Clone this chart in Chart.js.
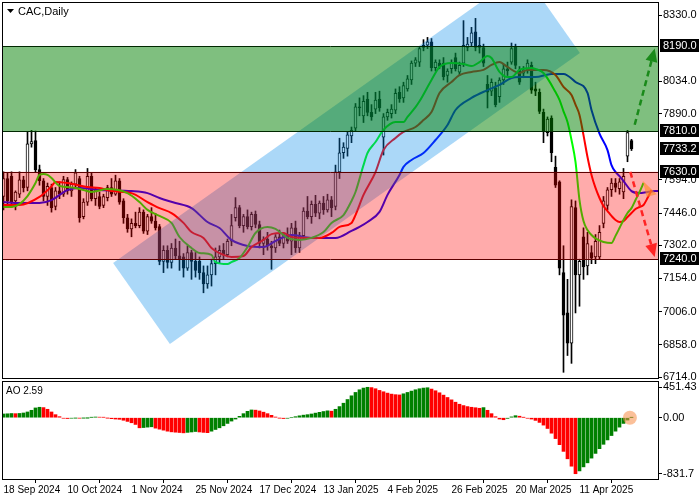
<!DOCTYPE html>
<html>
<head>
<meta charset="utf-8">
<script src="https://cdn.jsdelivr.net/npm/chart.js@4.4.1/dist/chart.umd.min.js"></script>
<style>
  html, body { margin: 0; padding: 0; background: #fff; }
  #wrap { position: relative; width: 700px; height: 500px; }
  #mainBox { position: absolute; left: 0; top: 0; width: 700px; height: 380px; }
  #aoBox { position: absolute; left: 0; top: 380px; width: 700px; height: 120px; }
</style>
</head>
<body>
<div id="wrap">
  <div id="mainBox"><canvas id="mainChart"></canvas></div>
  <div id="aoBox"><canvas id="aoChart"></canvas></div>
</div>
<script>
const FONT = '"Liberation Sans", Arial, sans-serif';

// time axis: one label every 16 bars
const dateIdx = [0, 16, 32, 48, 64, 80, 96, 112, 128, 144];
const dateLabels = ["18 Sep 2024", "10 Oct 2024", "1 Nov 2024", "25 Nov 2024", "17 Dec 2024",
    "13 Jan 2025", "4 Feb 2025", "26 Feb 2025", "20 Mar 2025", "11 Apr 2025"];

// daily candles, bar 0 = 18 Sep 2024
const opens = [
    7520, 7600, 7610, 7500, 7530, 7594, 7560, 7755, 7770, 7640,
    7590, 7520, 7560, 7475, 7545, 7530, 7595, 7545, 7575, 7600,
    7430, 7495, 7610, 7510, 7520, 7480, 7515, 7560, 7530, 7590,
    7500, 7425, 7375, 7400, 7390, 7450, 7365, 7430, 7410, 7385,
    7230, 7280, 7225, 7290, 7255, 7250, 7200, 7270, 7230, 7230,
    7180, 7130, 7170, 7220, 7250, 7280, 7260, 7320, 7425, 7470,
    7390, 7430, 7385, 7440, 7395, 7310, 7330, 7300, 7290, 7340,
    7310, 7350, 7320, 7380, 7290, 7345, 7455, 7430, 7485, 7445,
    7490, 7460, 7505, 7475, 7630, 7715, 7735, 7790, 7825, 7920,
    7880, 7955, 7895, 7910, 7955, 7785, 7875, 7890, 7905, 7985,
    7960, 8000, 8040, 8115, 8120, 8185, 8195, 8210, 8095, 8115,
    8115, 8060, 8090, 8140, 8075, 8115, 8185, 8205, 8255, 8185,
    8185, 8020, 7990, 8005, 7965, 8040, 8090, 8120, 8190, 8085,
    8070, 8080, 8105, 8000, 7985, 7895, 7805, 7870, 7650, 7585,
    7180, 7000, 6865, 7470, 7170, 7340, 7210, 7270, 7250, 7250,
    7400, 7480, 7550, 7580, 7555, 7540, 7700, 7770
];
const highs = [
    7630, 7625, 7630, 7545, 7630, 7610, 7810, 7815, 7812, 7660,
    7600, 7580, 7575, 7560, 7585, 7610, 7605, 7585, 7640, 7610,
    7510, 7645, 7625, 7560, 7540, 7530, 7570, 7600, 7615, 7600,
    7510, 7440, 7420, 7450, 7470, 7460, 7440, 7470, 7445, 7395,
    7300, 7300, 7310, 7330, 7320, 7265, 7300, 7280, 7270, 7250,
    7210, 7210, 7240, 7290, 7300, 7310, 7330, 7440, 7515, 7480,
    7440, 7460, 7450, 7455, 7410, 7340, 7360, 7320, 7350, 7370,
    7360, 7380, 7400, 7410, 7360, 7470, 7520, 7500, 7525, 7500,
    7520, 7530, 7520, 7660, 7780, 7760, 7810, 7830, 7935, 7960,
    7970, 7985, 7930, 7985, 7990, 7890, 7910, 7930, 8000, 8010,
    8030, 8060, 8125, 8140, 8190, 8220, 8230, 8225, 8130, 8130,
    8140, 8090, 8130, 8160, 8120, 8305, 8230, 8275, 8315, 8230,
    8200, 8060, 8045, 8030, 8050, 8110, 8120, 8205, 8200, 8100,
    8100, 8130, 8120, 8030, 8000, 7910, 7875, 7880, 7700, 7590,
    7300, 7150, 7505, 7500, 7240, 7380, 7360, 7300, 7350, 7390,
    7520, 7560, 7600, 7600, 7600, 7645, 7815, 7775
];
const lows = [
    7460, 7480, 7470, 7460, 7515, 7540, 7545, 7740, 7630, 7570,
    7500, 7480, 7450, 7460, 7510, 7520, 7530, 7520, 7560, 7405,
    7420, 7480, 7500, 7480, 7465, 7470, 7500, 7520, 7525, 7485,
    7400, 7360, 7340, 7380, 7380, 7355, 7350, 7400, 7370, 7215,
    7180, 7200, 7200, 7240, 7190, 7160, 7190, 7150, 7160, 7150,
    7090, 7110, 7120, 7170, 7220, 7240, 7250, 7300, 7410, 7380,
    7360, 7375, 7370, 7380, 7290, 7260, 7280, 7195, 7270, 7300,
    7290, 7310, 7260, 7270, 7270, 7330, 7420, 7400, 7430, 7420,
    7440, 7450, 7430, 7460, 7600, 7690, 7700, 7760, 7810, 7880,
    7850, 7880, 7860, 7890, 7900, 7705, 7860, 7870, 7890, 7940,
    7940, 7990, 8020, 8100, 8100, 8170, 8180, 8080, 8080, 8090,
    8040, 8030, 8070, 8080, 8060, 8100, 8170, 8190, 8170, 8160,
    8100, 7915, 7970, 7920, 7940, 8020, 8060, 8110, 8090, 8020,
    8050, 8070, 7980, 7970, 7890, 7760, 7790, 7675, 7560, 7170,
    6735, 6810, 6775, 7000, 7030, 7150, 7170, 7220, 7220, 7240,
    7380, 7460, 7520, 7540, 7530, 7510, 7675, 7725
];
const closes = [
    7600, 7500, 7495, 7540, 7594, 7558, 7755, 7765, 7640, 7590,
    7520, 7565, 7470, 7545, 7530, 7595, 7545, 7575, 7625, 7425,
    7495, 7610, 7510, 7550, 7475, 7520, 7560, 7530, 7590, 7495,
    7425, 7375, 7400, 7390, 7450, 7365, 7430, 7410, 7380, 7230,
    7280, 7225, 7290, 7255, 7240, 7200, 7270, 7230, 7190, 7180,
    7130, 7170, 7220, 7250, 7280, 7260, 7320, 7390, 7470, 7390,
    7430, 7385, 7440, 7395, 7310, 7330, 7300, 7290, 7340, 7310,
    7350, 7320, 7380, 7290, 7345, 7455, 7430, 7485, 7445, 7490,
    7460, 7505, 7470, 7630, 7715, 7740, 7795, 7815, 7920, 7915,
    7945, 7895, 7875, 7950, 7915, 7875, 7895, 7910, 7980, 7955,
    8015, 8045, 8115, 8130, 8180, 8195, 8210, 8095, 8120, 8100,
    8055, 8080, 8115, 8090, 8105, 8195, 8200, 8250, 8185, 8195,
    8115, 7985, 8030, 7930, 8040, 8090, 8080, 8180, 8105, 8030,
    8085, 8115, 7995, 7990, 7900, 7810, 7865, 7715, 7570, 7200,
    6990, 6865, 7475, 7170, 7230, 7205, 7310, 7245, 7320, 7360,
    7500, 7550, 7580, 7560, 7585, 7610, 7805, 7733.2
];

// Alligator lines as (bar, price) points
const lipsIdx = [0, 2, 4, 6, 7, 8, 9, 10, 11, 12, 14, 16, 18, 20, 22, 26, 31, 34, 36, 39,
    42, 44, 47, 49, 52, 53, 56, 57, 59, 61, 63, 66, 68, 71, 74, 77, 80, 82, 85, 87,
    88, 90, 91, 93, 95, 98, 100, 101, 103, 104, 107, 109, 112, 115, 117, 119, 121, 122, 124, 126,
    127, 129, 132, 133, 135, 138, 139, 140, 141, 142, 143, 144, 145, 146, 147, 148, 150, 152, 153, 154,
    155, 156, 157, 158, 159, 160];
const lipsVal = [7473, 7473, 7486, 7522, 7549, 7580, 7616, 7620, 7616, 7602, 7567, 7562, 7558, 7549, 7540, 7553, 7535, 7495, 7460, 7433,
    7402, 7339, 7290, 7268, 7259, 7227, 7218, 7227, 7245, 7294, 7357, 7384, 7375, 7335, 7326, 7335, 7361, 7402, 7437, 7500,
    7540, 7660, 7714, 7763, 7817, 7852, 7852, 7875, 7919, 7945, 8040, 8098, 8116, 8111, 8102, 8120, 8147, 8138, 8076, 8053,
    8053, 8085, 8093, 8089, 8071, 7986, 7951, 7900, 7852, 7772, 7674, 7504, 7410, 7370, 7348, 7333, 7317, 7312, 7344, 7379,
    7415, 7446, 7468, 7504, 7540, 7580];

const teethIdx = [0, 4, 9, 12, 13, 16, 21, 24, 27, 32, 36, 39, 42, 45, 47, 50, 52, 55, 57, 60,
    62, 65, 67, 70, 72, 76, 79, 82, 84, 87, 88, 90, 93, 95, 98, 100, 103, 105, 107, 109,
    112, 114, 117, 120, 122, 124, 126, 129, 131, 135, 138, 140, 142, 143, 144, 145, 146, 147, 148, 149,
    150, 151, 152, 153, 154, 155, 156, 157, 158, 159, 160, 161, 162];
const teethVal = [7482, 7482, 7518, 7565, 7585, 7580, 7562, 7558, 7544, 7535, 7495, 7468, 7446, 7402, 7361, 7335, 7290, 7259, 7250, 7254,
    7294, 7326, 7352, 7357, 7339, 7335, 7335, 7357, 7384, 7402, 7437, 7527, 7629, 7727, 7781, 7808, 7830, 7861, 7897, 7982,
    8031, 8062, 8076, 8085, 8107, 8120, 8098, 8071, 8085, 8085, 8062, 8009, 7973, 7930, 7884, 7794, 7696, 7616, 7558, 7513,
    7477, 7455, 7433, 7415, 7406, 7410, 7428, 7446, 7464, 7473, 7482, 7513, 7549];

const jawIdx = [0, 4, 9, 12, 16, 19, 24, 32, 36, 39, 43, 47, 51, 54, 57, 61, 65, 68, 72, 77,
    83, 87, 89, 91, 94, 96, 99, 100, 102, 105, 108, 111, 113, 117, 121, 124, 127, 129, 133, 137,
    140, 143, 146, 147, 149, 151, 152, 153, 154, 155, 157, 159, 161, 163, 165];
const jawVal = [7495, 7491, 7491, 7504, 7549, 7558, 7549, 7544, 7535, 7513, 7491, 7468, 7406, 7379, 7326, 7299, 7294, 7321, 7348, 7335,
    7335, 7366, 7384, 7406, 7451, 7527, 7616, 7652, 7683, 7714, 7772, 7839, 7906, 7960, 7995, 8018, 8049, 8053, 8053, 8067,
    8067, 8031, 7982, 7906, 7800, 7727, 7660, 7630, 7611, 7589, 7544, 7535, 7540, 7544, 7545];

// Awesome Oscillator, one value per bar
const aoValues = [
    55, 58, 62, 60, 63, 70, 85, 110, 145, 155,
    150, 125, 85, 45, 15, -8, -12, -7, -4, -6,
    -3, -1, 5, 10, 8, 6, -4, -14, -20, -24,
    -38, -55, -75, -100, -150, -146, -140, -135, -155, -170,
    -185, -200, -210, -215, -220, -225, -218, -212, -205, -212,
    -218, -222, -200, -175, -150, -120, -85, -50, -20, 20,
    60, 95, 115, 112, 100, 82, 60, 35, 10, -5,
    -12, -8, 0, 15, 28, 38, 45, 55, 68, 80,
    92, 102, 97, 125, 165, 215, 270, 325, 375, 415,
    440, 451.43, 447, 430, 405, 385, 365, 350, 342, 338,
    355, 375, 395, 415, 430, 440, 445, 425, 400, 370,
    335, 300, 265, 230, 200, 180, 165, 155, 148, 140,
    150, 110, 60, 15, -20, -30, -10, 12, 30, 22,
    5, -8, -20, -40, -70, -110, -160, -230, -310, -400,
    -500, -610, -720, -831.7, -790, -730, -670, -600, -530, -460,
    -395, -330, -265, -200, -140, -85, -35, 2.59
];

// price axis
const priceTicks = [8330, 8034, 7890, 7594, 7446, 7302, 7154, 7006, 6858, 6714];
const levelPrices = [8190, 7810, 7733.2, 7630, 7240];
const aoTickValues = [451.43, 0, -831.7];
const aoTickLabels = ["451.43", "0.00", "-831.7"];

// drawn objects, in (bar, price)
const greenZone = [7810, 8190];
const pinkZone = [7240, 7630];
const channelIdx = [27.4, 41.6, 144.1, 129.9];
const channelPrice = [7223, 6861, 8160, 8522];
const upArrow = [157.8, 7840, 162.8, 8180];
const downArrow = [156.7, 7630, 162.8, 7250];
const flagIdx = [159.8, 163.3, 160.8];
const flagPrice = [7590, 7530, 7518];
const aoMarker = [156.6, 0];

const X_MIN = -0.125, X_MAX = 163.625;

Chart.defaults.font.family = FONT;
Chart.defaults.color = "#000";

const bars = opens.map((o, i) => i);

function pts(idx, vals) {
    return idx.map((v, k) => ({ x: v, y: vals[k] }));
}

function drawArrow(ctx, x1, y1, x2, y2, color) {
    const ang = Math.atan2(y2 - y1, x2 - x1);
    const head = 13, half = 6;
    const bx = x2 - head * Math.cos(ang), by = y2 - head * Math.sin(ang);
    ctx.strokeStyle = color;
    ctx.lineWidth = 2.5;
    ctx.setLineDash([6, 4]);
    ctx.beginPath();
    ctx.moveTo(x1, y1);
    ctx.lineTo(bx, by);
    ctx.stroke();
    ctx.setLineDash([]);
    ctx.fillStyle = color;
    ctx.beginPath();
    ctx.moveTo(x2, y2);
    ctx.lineTo(bx + half * Math.sin(ang), by - half * Math.cos(ang));
    ctx.lineTo(bx - half * Math.sin(ang), by + half * Math.cos(ang));
    ctx.closePath();
    ctx.fill();
}

const overlayPlugin = {
    id: "overlays",
    afterDatasetsDraw(chart) {
        const { ctx, chartArea: a, scales: { x, y } } = chart;
        ctx.save();
        ctx.beginPath();
        ctx.rect(a.left, a.top, a.right - a.left, a.bottom - a.top);
        ctx.clip();

        // trend channel
        ctx.beginPath();
        channelIdx.forEach((v, k) => {
            const px = x.getPixelForValue(v), py = y.getPixelForValue(channelPrice[k]);
            if (k === 0) ctx.moveTo(px, py); else ctx.lineTo(px, py);
        });
        ctx.closePath();
        ctx.fillStyle = "rgba(0, 136, 233, 0.33)";
        ctx.fill();

        // zones
        const zone = (z, fill, line) => {
            const yTop = y.getPixelForValue(z[1]), yBot = y.getPixelForValue(z[0]);
            ctx.fillStyle = fill;
            ctx.fillRect(a.left, yTop, a.right - a.left, yBot - yTop);
            ctx.strokeStyle = line;
            ctx.lineWidth = 1;
            [yTop, yBot].forEach(py => {
                ctx.beginPath();
                ctx.moveTo(a.left, Math.round(py) + 0.5);
                ctx.lineTo(a.right, Math.round(py) + 0.5);
                ctx.stroke();
            });
        };
        zone(pinkZone, "rgba(255, 0, 0, 0.33)", "#5c0000");
        zone(greenZone, "rgba(0, 128, 0, 0.5)", "#002800");

        // forecast arrows
        drawArrow(ctx, x.getPixelForValue(upArrow[0]), y.getPixelForValue(upArrow[1]),
            x.getPixelForValue(upArrow[2]), y.getPixelForValue(upArrow[3]), "#1a8a1a");
        drawArrow(ctx, x.getPixelForValue(downArrow[0]), y.getPixelForValue(downArrow[1]),
            x.getPixelForValue(downArrow[2]), y.getPixelForValue(downArrow[3]), "#ff2424");

        // small orange flag
        ctx.beginPath();
        flagIdx.forEach((v, k) => {
            const px = x.getPixelForValue(v), py = y.getPixelForValue(flagPrice[k]);
            if (k === 0) ctx.moveTo(px, py); else ctx.lineTo(px, py);
        });
        ctx.closePath();
        ctx.fillStyle = "rgba(255, 140, 40, 0.65)";
        ctx.fill();
        ctx.restore();
    },
    afterDraw(chart) {
        const { ctx, chartArea: a, scales: { y } } = chart;
        ctx.save();
        ctx.strokeStyle = "#000";
        ctx.lineWidth = 1;
        ctx.strokeRect(a.left - 0.5, a.top - 0.5, a.right - a.left + 1, a.bottom - a.top + 1);

        // title
        ctx.fillStyle = "#000";
        ctx.beginPath();
        ctx.moveTo(7, 9); ctx.lineTo(14, 9); ctx.lineTo(10.5, 13);
        ctx.closePath();
        ctx.fill();
        ctx.font = "11px " + FONT;
        ctx.textBaseline = "middle";
        ctx.fillText("CAC,Daily", 18, 11.5);

        // level price boxes
        levelPrices.forEach(v => {
            const py = Math.round(y.getPixelForValue(v));
            ctx.fillStyle = "#000";
            ctx.fillRect(660, py - 7, 39, 13);
            ctx.fillStyle = "#fff";
            ctx.fillText(v.toFixed(1), 663, py);
        });
        ctx.restore();
    }
};

new Chart(document.getElementById("mainChart"), {
    type: "bar",
    data: {
        datasets: [
            {
                type: "line", label: "Lips", data: pts(lipsIdx, lipsVal),
                borderColor: "#00ff00", borderWidth: 2, pointRadius: 0,
                cubicInterpolationMode: "monotone", order: 1
            },
            {
                type: "line", label: "Teeth", data: pts(teethIdx, teethVal),
                borderColor: "#ff0000", borderWidth: 2, pointRadius: 0,
                cubicInterpolationMode: "monotone", order: 1
            },
            {
                type: "line", label: "Jaw", data: pts(jawIdx, jawVal),
                borderColor: "#0000ff", borderWidth: 2, pointRadius: 0,
                cubicInterpolationMode: "monotone", order: 1
            },
            {
                label: "Body",
                data: bars.map(i => ({ x: i, y: [opens[i], closes[i]] })),
                backgroundColor: bars.map(i => closes[i] >= opens[i] ? "#ffffff" : "#000000"),
                borderColor: "#000", borderWidth: 1, borderSkipped: false,
                barThickness: 3, grouped: false, order: 2
            },
            {
                label: "Wick",
                data: bars.map(i => ({ x: i, y: [lows[i], highs[i]] })),
                backgroundColor: "#000", barThickness: 1, grouped: false, order: 3
            }
        ]
    },
    options: {
        responsive: true,
        maintainAspectRatio: false,
        animation: false,
        devicePixelRatio: 1,
        layout: { padding: { left: 3, top: 3, right: 0, bottom: 2 } },
        plugins: { legend: { display: false }, tooltip: { enabled: false } },
        scales: {
            x: { type: "linear", min: X_MIN, max: X_MAX, offset: false, display: false },
            y: {
                position: "right",
                min: 6709.6,
                max: 8383.6,
                afterBuildTicks(s) { s.ticks = priceTicks.map(v => ({ value: v })); },
                afterFit(s) { s.width = 42; s.paddingTop = 0; s.paddingBottom = 0; },
                ticks: { callback: v => Number(v).toFixed(1), font: { size: 11 }, color: "#000", padding: 1 },
                grid: { drawOnChartArea: false, tickLength: 4, color: "#000" },
                border: { display: true, color: "#000" }
            }
        }
    },
    plugins: [overlayPlugin]
});

const aoPlugin = {
    id: "aoDecor",
    afterDraw(chart) {
        const { ctx, chartArea: a, scales: { x, y } } = chart;
        ctx.save();
        ctx.strokeStyle = "#000";
        ctx.lineWidth = 1;
        ctx.strokeRect(a.left - 0.5, a.top - 0.5, a.right - a.left + 1, a.bottom - a.top + 1);
        ctx.fillStyle = "rgba(248, 140, 70, 0.55)";
        ctx.beginPath();
        ctx.arc(x.getPixelForValue(aoMarker[0]), y.getPixelForValue(aoMarker[1]), 7, 0, Math.PI * 2);
        ctx.fill();
        ctx.fillStyle = "#000";
        ctx.font = "10px " + FONT;
        ctx.textBaseline = "middle";
        ctx.fillText("AO " + aoValues[aoValues.length - 1].toFixed(2), 6, 11);
        ctx.restore();
    }
};

new Chart(document.getElementById("aoChart"), {
    type: "bar",
    data: {
        datasets: [{
            label: "AO",
            data: bars.map(i => ({ x: i, y: aoValues[i] })),
            backgroundColor: bars.map(i => (i === 0 || aoValues[i] >= aoValues[i - 1]) ? "#008000" : "#ff0000"),
            barThickness: 3, grouped: false
        }]
    },
    options: {
        responsive: true,
        maintainAspectRatio: false,
        animation: false,
        devicePixelRatio: 1,
        layout: { padding: { left: 3, top: 2, right: 0, bottom: 0 } },
        plugins: { legend: { display: false }, tooltip: { enabled: false } },
        scales: {
            x: {
                type: "linear", min: X_MIN, max: X_MAX, offset: false,
                afterBuildTicks(s) { s.ticks = dateIdx.map(v => ({ value: v })); },
                afterFit(s) { s.height = 21; s.paddingLeft = 0; s.paddingRight = 0; },
                ticks: {
                    callback: (v, k) => dateLabels[k], align: "start", autoSkip: false,
                    maxRotation: 0, font: { size: 10 }, color: "#000", padding: 1
                },
                grid: { drawOnChartArea: false, tickLength: 4, color: "#000" },
                border: { display: true, color: "#000" }
            },
            y: {
                position: "right",
                min: -910,
                max: 530,
                afterBuildTicks(s) { s.ticks = aoTickValues.map(v => ({ value: v })); },
                afterFit(s) { s.width = 42; s.paddingTop = 0; s.paddingBottom = 0; },
                ticks: { callback: (v, k) => aoTickLabels[k], font: { size: 11 }, color: "#000", padding: 1 },
                grid: { drawOnChartArea: false, tickLength: 4, color: "#000" },
                border: { display: true, color: "#000" }
            }
        }
    },
    plugins: [aoPlugin]
});
</script>
</body>
</html>
